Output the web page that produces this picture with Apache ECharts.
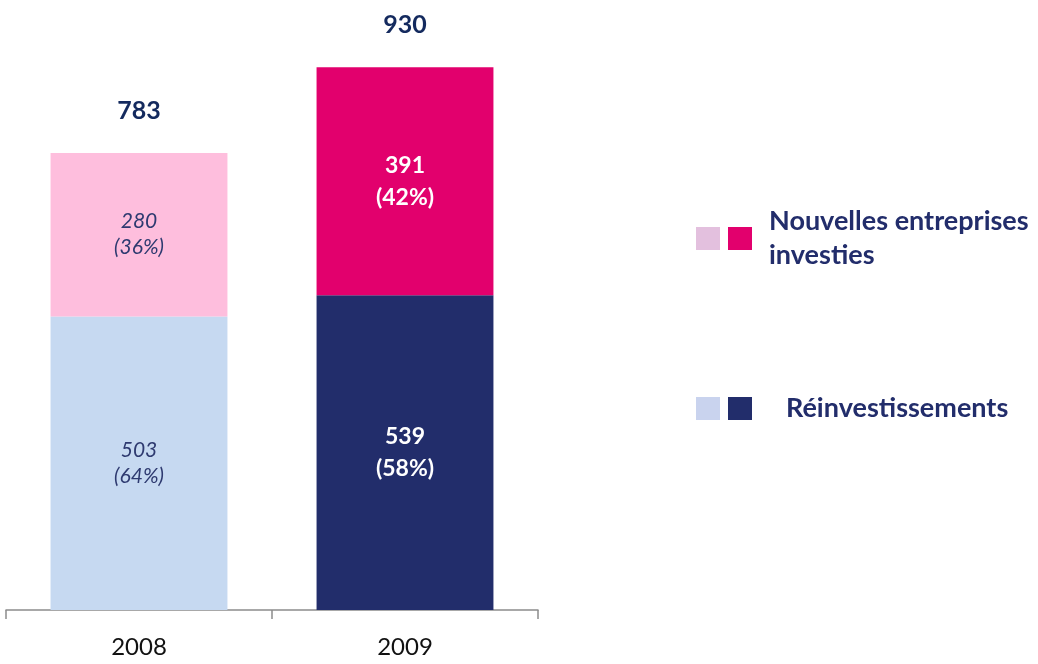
<!DOCTYPE html>
<html>
<head>
<meta charset="utf-8">
<script src="https://cdn.jsdelivr.net/npm/echarts@6/dist/echarts.min.js"></script>
<style>
  html, body { margin: 0; padding: 0; background: #fff; }
  #main { width: 1038px; height: 664px; }
</style>
</head>
<body>
<div id="main"></div>
<script>
// données du graphique
var years = ['2008', '2009'];
var reinvest = [503, 539];
var nouvelles = [280, 391];
var totals = years.map(function (y, i) { return reinvest[i] + nouvelles[i]; });

var navy = '#222d6b';
var font = 'Lato, "Open Sans", sans-serif';

var myChart = echarts.init(document.getElementById('main'));

// une série par année pour avoir une couleur et un style de label par barre
function yearData(values, idx) {
    return values.map(function (v, i) { return i === idx ? v : '-'; });
}

function pctLabel(params) {
    var t = totals[params.dataIndex];
    return params.value + '\n(' + Math.round(params.value / t * 100) + '%)';
}

var lightLabel = {
    show: true, position: 'inside', formatter: pctLabel,
    color: '#2e3a70', fontStyle: 'italic', fontSize: 21, lineHeight: 26, fontFamily: font
};
var darkLabel = {
    show: true, position: 'inside', formatter: pctLabel,
    color: '#fff', fontWeight: 'bold', fontSize: 23, lineHeight: 32, fontFamily: font
};

// seul le carré foncé porte le texte de la légende
var legendNames = {
    'Nouvelles 2009': '{n|Nouvelles entreprises}\n{n|investies}',
    'Réinvestissements 2009': '{r|Réinvestissements}'
};
var legendText = {
    color: navy, fontWeight: 'bold', fontSize: 27, fontFamily: font,
    rich: {
        n: { color: navy, fontWeight: 'bold', fontSize: 27, lineHeight: 34, fontFamily: font, padding: [0, 0, 0, 12] },
        r: { color: navy, fontWeight: 'bold', fontSize: 27, lineHeight: 27, fontFamily: font, padding: [0, 0, 0, 29] }
    }
};

option = {
    animation: false,
    grid: { left: 6, right: 500, top: 0, bottom: 54 },
    legend: [
        {
            left: 696, top: 208, padding: 0,
            icon: 'rect', itemWidth: 24, itemHeight: 23, itemGap: 8,
            selectedMode: false,
            formatter: function (name) { return legendNames[name] || ''; },
            textStyle: legendText,
            data: [
                { name: 'Nouvelles 2008', itemStyle: { color: '#e3c0de' } },
                { name: 'Nouvelles 2009', itemStyle: { color: '#e2006d' } }
            ]
        },
        {
            left: 696, top: 395, padding: 0,
            icon: 'rect', itemWidth: 24, itemHeight: 23, itemGap: 8,
            selectedMode: false,
            formatter: function (name) { return legendNames[name] || ''; },
            textStyle: legendText,
            data: [
                { name: 'Réinvestissements 2008', itemStyle: { color: '#c9d3ee' } },
                { name: 'Réinvestissements 2009', itemStyle: { color: navy } }
            ]
        }
    ],
    xAxis: {
        type: 'category',
        data: years,
        axisLine: { lineStyle: { color: '#8c8c8c', width: 1.5 } },
        axisTick: { show: true, length: 9, lineStyle: { color: '#8c8c8c', width: 1.5 } },
        axisLabel: { color: '#111', fontSize: 24, margin: 25, fontFamily: font }
    },
    yAxis: {
        type: 'value', min: 0, max: 1045, show: false, splitLine: { show: false }
    },
    series: [
        {
            name: 'Réinvestissements 2008', type: 'bar', stack: 'total', barWidth: '66.5%',
            data: yearData(reinvest, 0), itemStyle: { color: '#c6d9f1' }, label: lightLabel
        },
        {
            name: 'Réinvestissements 2009', type: 'bar', stack: 'total', barWidth: '66.5%',
            data: yearData(reinvest, 1), itemStyle: { color: navy }, label: darkLabel
        },
        {
            name: 'Nouvelles 2008', type: 'bar', stack: 'total', barWidth: '66.5%',
            data: yearData(nouvelles, 0), itemStyle: { color: '#febedd' }, label: lightLabel
        },
        {
            name: 'Nouvelles 2009', type: 'bar', stack: 'total', barWidth: '66.5%',
            data: yearData(nouvelles, 1), itemStyle: { color: '#e2006d' }, label: darkLabel
        },
        {
            name: 'Total', type: 'scatter', symbolSize: 0, silent: true,
            data: totals,
            itemStyle: { opacity: 1 },
            label: {
                show: true, position: 'top', distance: 30,
                color: '#142a5e', fontWeight: 'bold', fontSize: 25, fontFamily: font
            }
        }
    ]
};

myChart.setOption(option);
</script>
</body>
</html>
